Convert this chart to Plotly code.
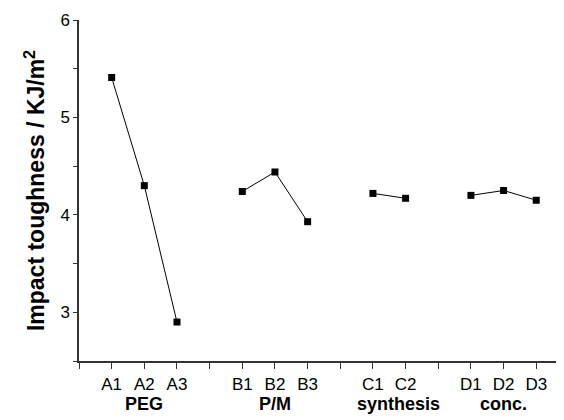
import plotly.graph_objects as go

categories = ["", "A1", "A2", "A3", "", "B1", "B2", "B3", "", "C1", "C2", "", "D1", "D2", "D3"]
groups = ["PEG", "P/M", "synthesis", "conc."]
group_members = [["A1", "A2", "A3"], ["B1", "B2", "B3"], ["C1", "C2"], ["D1", "D2", "D3"]]
values = {
    "A1": 5.41, "A2": 4.30, "A3": 2.90,
    "B1": 4.24, "B2": 4.44, "B3": 3.93,
    "C1": 4.22, "C2": 4.17,
    "D1": 4.20, "D2": 4.25, "D3": 4.15,
}
y_title = "Impact toughness / KJ/m<sup>2</sup>"

FONT = "Liberation Sans, Arial, sans-serif"

fig = go.Figure()
for members in group_members:
    xs = [categories.index(m) for m in members]
    ys = [values[m] for m in members]
    fig.add_trace(go.Scatter(
        x=xs, y=ys, mode="lines+markers",
        line=dict(color="black", width=1),
        marker=dict(symbol="square", size=7, color="black"),
        showlegend=False,
    ))

for g, members in zip(groups, group_members):
    xs = [categories.index(m) for m in members]
    cx = sum(xs) / len(xs)
    if g == "synthesis":
        cx += 0.27
    fig.add_annotation(x=cx, y=0, xref="x", yref="paper", yanchor="top",
                       yshift=-31, text="<b>%s</b>" % g, showarrow=False,
                       font=dict(size=18, color="black", family=FONT))

# page body has an 8px default margin, so the figure is sized to fit the window
fig.update_layout(
    width=556, height=412,
    margin=dict(l=71, r=0, t=12, b=59),
    plot_bgcolor="white", paper_bgcolor="white",
    font=dict(family=FONT, color="black"),
    xaxis=dict(
        range=[0, 14.85], tickmode="array",
        tickvals=list(range(len(categories))), ticktext=categories,
        ticks="outside", ticklen=6, tickwidth=1, tickcolor="#333",
        ticklabelstandoff=1,
        showline=True, linecolor="#333", linewidth=1.5,
        showgrid=False, zeroline=False, tickfont=dict(size=17),
    ),
    yaxis=dict(
        range=[2.5, 6], tickvals=[3, 4, 5, 6],
        ticks="outside", ticklen=4, tickwidth=1, tickcolor="#333",
        minor=dict(dtick=0.5, ticks="outside", ticklen=4, tickcolor="#333"),
        showline=True, linecolor="#333", linewidth=1.5,
        showgrid=False, zeroline=False, tickfont=dict(size=17),
        title=dict(text="<b>" + y_title + "</b>", font=dict(size=23), standoff=9),
    ),
)
fig.write_html("out.html")
